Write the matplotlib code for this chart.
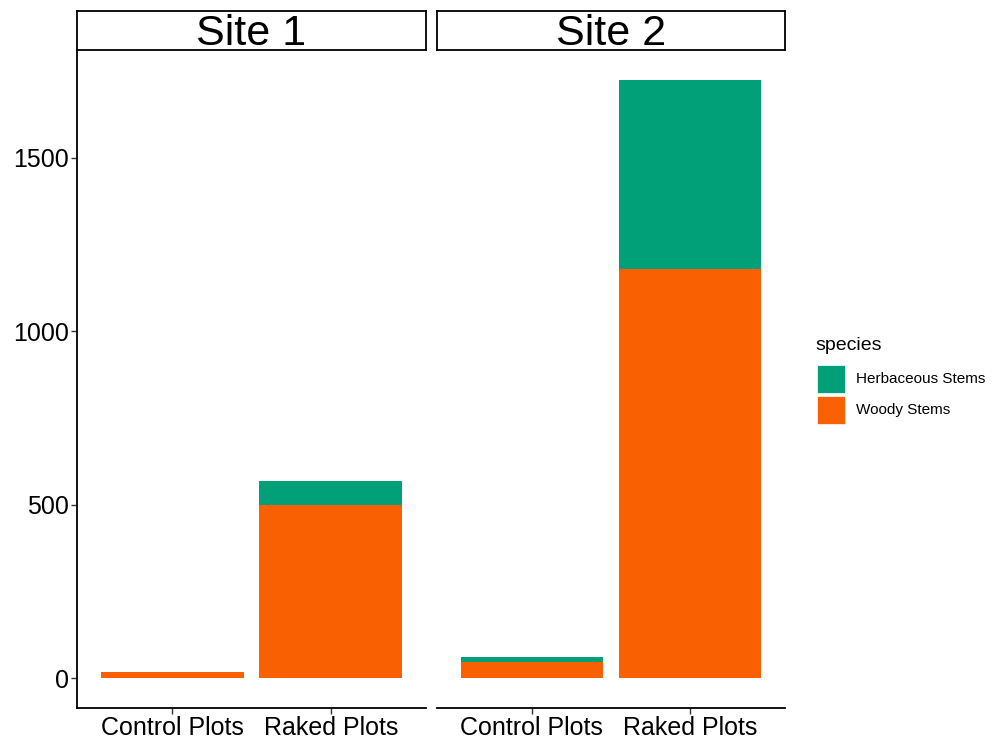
import matplotlib
matplotlib.use("Agg")
import matplotlib.pyplot as plt
from matplotlib.patches import Rectangle

plt.rcParams["font.family"] = ["Liberation Sans", "DejaVu Sans"]

sites = ["Site 1", "Site 2"]
plots = ["Control Plots", "Raked Plots"]
woody = {"Site 1": [18, 498], "Site 2": [45, 1179]}
herb = {"Site 1": [0, 71], "Site 2": [17, 546]}
yticks = [0, 500, 1000, 1500]
species = ["Herbaceous Stems", "Woody Stems"]

green = "#02A078"
orange = "#F86002"

W, H = 1004, 740
fig = plt.figure(figsize=(W / 100, H / 100), dpi=100)

def px_axes(x0, y0, x1, y1):
    return fig.add_axes([x0 / W, 1 - y1 / H, (x1 - x0) / W, (y1 - y0) / H])

panels = [(77, 426), (437, 785)]
ymax = max(w[1] + h[1] for w, h in zip(woody.values(), herb.values()))
ylim = (-0.05 * ymax, 1.05 * ymax)

for i, (site, (x0, x1)) in enumerate(zip(sites, panels)):
    ax = px_axes(x0, 50, x1, 708)
    pos = range(len(plots))
    ax.bar(pos, woody[site], width=0.9, color=orange, linewidth=0)
    ax.bar(pos, herb[site], width=0.9, bottom=woody[site], color=green, linewidth=0)
    ax.set_xlim(-0.6, len(plots) - 0.4)
    ax.set_ylim(*ylim)
    ax.set_xticks(list(pos))
    ax.set_xticklabels(plots, fontsize=18)
    ax.set_yticks(yticks)
    for s in ["top", "right"]:
        ax.spines[s].set_visible(False)
    ax.spines["bottom"].set_linewidth(1.3)
    ax.spines["left"].set_linewidth(1.3)
    ax.tick_params(axis="both", length=4, width=1, color="#333333", pad=2)
    if i == 0:
        ax.set_yticklabels([str(t) for t in yticks], fontsize=18)
    else:
        ax.spines["left"].set_visible(False)
        ax.tick_params(axis="y", left=False, labelleft=False)

    # facet strip
    sx = px_axes(x0, 11, x1, 50)
    sx.set_xticks([])
    sx.set_yticks([])
    for s in sx.spines.values():
        s.set_linewidth(1.3)
    sx.text(0.5, 0.4, site, fontsize=31, ha="center", va="center",
            transform=sx.transAxes)

# legend, drawn by hand in figure pixels
fig.text(815 / W, 1 - 346 / H, "species", fontsize=14, ha="left", va="center")
for k, (name, col) in enumerate(zip(species, [green, orange])):
    top = 365 + k * 31
    fig.patches.append(Rectangle((817 / W, 1 - (top + 28) / H), 28 / W, 28 / H,
                                 transform=fig.transFigure, facecolor=col,
                                 edgecolor="white", linewidth=0.5))
    fig.text(856 / W, 1 - (top + 14) / H, name, fontsize=11, ha="left", va="center")

fig.savefig("out.png", dpi=100)
